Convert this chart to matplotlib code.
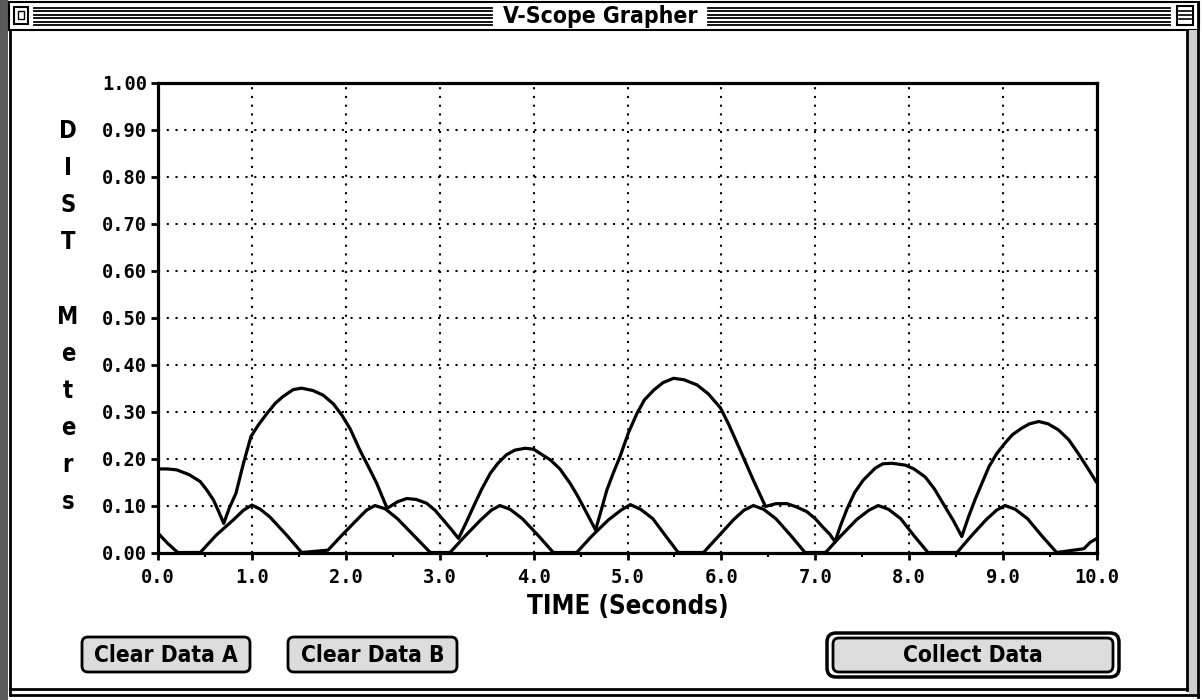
import matplotlib
matplotlib.use("Agg")
import matplotlib.pyplot as plt
from matplotlib.patches import FancyBboxPatch, Rectangle

# ---------------- data ----------------
window_title = "V-Scope Grapher"
x_label = "TIME (Seconds)"
y_label_top = "DIST"
y_label_bottom = "Meters"
button_labels = ["Clear Data A", "Clear Data B", "Collect Data"]

x_ticks = [0.0, 1.0, 2.0, 3.0, 4.0, 5.0, 6.0, 7.0, 8.0, 9.0, 10.0]
x_tick_labels = ["0.0", "1.0", "2.0", "3.0", "4.0", "5.0", "6.0", "7.0", "8.0", "9.0", "10.0"]
y_ticks = [0.0, 0.1, 0.2, 0.3, 0.4, 0.5, 0.6, 0.7, 0.8, 0.9, 1.0]
y_tick_labels = ["0.00", "0.10", "0.20", "0.30", "0.40", "0.50", "0.60", "0.70", "0.80", "0.90", "1.00"]

# Series A (large bouncing arcs)
time_a = [0.02, 0.10, 0.20, 0.33, 0.45, 0.52, 0.59, 0.64, 0.70,
          0.76, 0.83, 0.91, 0.99, 1.07, 1.16, 1.25, 1.33, 1.44, 1.53, 1.65,
          1.76, 1.87, 1.96, 2.05, 2.15, 2.24, 2.33, 2.44,
          2.55, 2.65, 2.75, 2.86, 2.95, 3.04, 3.12, 3.20,
          3.28, 3.36, 3.45, 3.54, 3.62, 3.71, 3.80, 3.91, 4.00, 4.07, 4.18,
          4.28, 4.39, 4.47, 4.55, 4.66,
          4.72, 4.78, 4.85, 4.92, 5.01, 5.10, 5.18, 5.28, 5.38, 5.49, 5.60,
          5.74, 5.86, 5.99, 6.08, 6.20, 6.34, 6.47,
          6.58, 6.70, 6.80, 6.91, 7.00, 7.09, 7.15, 7.21,
          7.27, 7.34, 7.42, 7.51, 7.64, 7.72, 7.82, 7.96, 8.05, 8.17, 8.27,
          8.38, 8.47, 8.56,
          8.63, 8.70, 8.78, 8.85, 8.93, 9.02, 9.10, 9.20, 9.28, 9.38, 9.48,
          9.59, 9.70, 9.80, 9.90, 9.99]
dist_a = [0.178, 0.178, 0.176, 0.166, 0.151, 0.133, 0.112, 0.090, 0.062,
          0.095, 0.126, 0.190, 0.247, 0.272, 0.296, 0.318, 0.332, 0.347, 0.350, 0.345,
          0.335, 0.316, 0.292, 0.262, 0.218, 0.183, 0.147, 0.094,
          0.108, 0.115, 0.113, 0.105, 0.090, 0.069, 0.050, 0.030,
          0.063, 0.098, 0.136, 0.169, 0.190, 0.208, 0.218, 0.222, 0.220, 0.211, 0.197,
          0.178, 0.147, 0.120, 0.090, 0.048,
          0.090, 0.133, 0.170, 0.204, 0.255, 0.296, 0.325, 0.346, 0.362, 0.371, 0.368,
          0.357, 0.338, 0.308, 0.272, 0.218, 0.154, 0.098,
          0.104, 0.104, 0.097, 0.087, 0.072, 0.052, 0.040, 0.023,
          0.058, 0.094, 0.128, 0.154, 0.180, 0.189, 0.190, 0.186, 0.178, 0.161, 0.135,
          0.098, 0.068, 0.034,
          0.075, 0.112, 0.150, 0.183, 0.210, 0.233, 0.251, 0.265, 0.274, 0.279, 0.274,
          0.261, 0.240, 0.211, 0.180, 0.151]

# Series B (small arcs peaking near 0.10 m)
time_b = [0.02, 0.10, 0.21, 0.45,
          0.62, 0.80, 0.91, 1.00, 1.09, 1.19, 1.37, 1.53, 1.81,
          1.95, 2.12, 2.22, 2.31, 2.42, 2.55, 2.72, 2.90, 3.11,
          3.27, 3.44, 3.55, 3.64, 3.75, 3.88, 4.05, 4.21, 4.46,
          4.62, 4.80, 4.93, 5.03, 5.14, 5.27, 5.40, 5.54, 5.81,
          5.97, 6.13, 6.24, 6.34, 6.45, 6.58, 6.74, 6.89, 7.11,
          7.27, 7.44, 7.57, 7.67, 7.78, 7.91, 8.05, 8.20, 8.51,
          8.66, 8.82, 8.93, 9.02, 9.13, 9.26, 9.41, 9.57, 9.86,
          9.93, 10.0]
dist_b = [0.037, 0.020, 0.000, 0.000,
          0.037, 0.069, 0.090, 0.101, 0.092, 0.076, 0.037, 0.000, 0.005,
          0.035, 0.070, 0.090, 0.100, 0.093, 0.072, 0.037, 0.000, 0.000,
          0.035, 0.070, 0.090, 0.100, 0.092, 0.072, 0.036, 0.000, 0.000,
          0.035, 0.070, 0.090, 0.102, 0.092, 0.072, 0.037, 0.000, 0.000,
          0.035, 0.070, 0.090, 0.100, 0.092, 0.072, 0.036, 0.000, 0.000,
          0.035, 0.070, 0.090, 0.100, 0.092, 0.072, 0.036, 0.000, 0.000,
          0.035, 0.070, 0.090, 0.100, 0.092, 0.072, 0.036, 0.000, 0.008,
          0.022, 0.030]

# ---------------- figure ----------------
W, H = 1202, 700
fig = plt.figure(figsize=(W / 100, H / 100), dpi=100)
fig.patch.set_facecolor("white")

UI_FONT = dict(family="DejaVu Sans", weight="bold", stretch="condensed")
MONO_FONT = dict(family="DejaVu Sans Mono", weight="bold")

# background "window" layer in pixel coordinates
bg = fig.add_axes([0, 0, 1, 1], zorder=0)
bg.set_xlim(0, W)
bg.set_ylim(H, 0)
bg.axis("off")

# left dark strip (scan edge)
bg.add_patch(Rectangle((0, 0), 8, H, facecolor="#5a5a5a", edgecolor="none"))
# title bar
bg.add_patch(Rectangle((9, 2), 1190, 28, facecolor="white", edgecolor="black", lw=1.5))
for yy in [7.5, 11, 14.5, 18, 21.5, 25]:
    bg.plot([34, 492], [yy, yy], color="black", lw=1.3)
    bg.plot([708, 1170], [yy, yy], color="black", lw=1.3)
# close box and zoom box
bg.add_patch(Rectangle((14, 7), 14, 17, facecolor="white", edgecolor="black", lw=1.5))
bg.add_patch(Rectangle((18, 11), 6, 8, facecolor="white", edgecolor="black", lw=1))
bg.add_patch(Rectangle((1177, 6), 16, 19, facecolor="white", edgecolor="black", lw=1.5))
for yy in [11, 15, 19]:
    bg.plot([1179, 1191], [yy, yy], color="black", lw=1.2)
bg.text(600, 16, window_title, ha="center", va="center", fontsize=16.5, color="black", **UI_FONT)

# window body border
bg.plot([10, 10], [30, 694], color="black", lw=2)
bg.plot([1187, 1187], [30, 690], color="black", lw=2)
bg.add_patch(Rectangle((1189, 30), 8, 664, facecolor="#cfcfcf", edgecolor="none"))
bg.plot([1198, 1198], [2, 697], color="black", lw=2)
bg.plot([10, 1187], [689, 689], color="black", lw=2)
bg.plot([10, 1198], [695, 695], color="black", lw=2)

# buttons
def button(x0, y0, w, h, label, default=False):
    if default:
        bg.add_patch(FancyBboxPatch((x0 - 6, y0 - 5), w + 12, h + 10,
                                    boxstyle="round,pad=0,rounding_size=9",
                                    facecolor="white", edgecolor="black", lw=2.5))
    bg.add_patch(FancyBboxPatch((x0, y0), w, h,
                                boxstyle="round,pad=0,rounding_size=6",
                                facecolor="#dcdcdc", edgecolor="black", lw=2))
    bg.text(x0 + w / 2, y0 + h / 2 + 1, label, ha="center", va="center",
            fontsize=16.3, color="black", **UI_FONT)

button(82, 637, 168, 35, button_labels[0])
button(288, 637, 169, 35, button_labels[1])
button(833, 638, 280, 34, button_labels[2], default=True)

# vertical stacked y label letters
for i, ch in enumerate(y_label_top):
    bg.text(68, 131 + 37 * i, ch, ha="center", va="center", fontsize=17, **UI_FONT)
for i, ch in enumerate(y_label_bottom):
    bg.text(68, 317 + 37 * i, ch, ha="center", va="center", fontsize=17, **UI_FONT)

# ---------------- plot axes ----------------
x0, x1 = 158, 1097
yb, yt = 552.5, 83
ax = fig.add_axes([x0 / W, (H - yb) / H, (x1 - x0) / W, (yb - yt) / H], zorder=2)
ax.set_facecolor("none")
ax.set_xlim(0, 10)
ax.set_ylim(0, 1.0)

ax.set_xticks(x_ticks)
ax.set_xticklabels(x_tick_labels, fontsize=13.5, **MONO_FONT)
ax.set_yticks(y_ticks)
ax.set_yticklabels(y_tick_labels, fontsize=13.5, **MONO_FONT)
ax.set_xticks([0.5 + i for i in range(10)], minor=True)
ax.tick_params(axis="both", which="major", direction="out", length=5, width=2,
               color="black", pad=3)
ax.tick_params(axis="x", which="minor", direction="out", length=3, width=1.5)
ax.tick_params(axis="x", which="major", pad=6)

ax.grid(True, which="major", color="black", linestyle=(0, (1, 3.2)), linewidth=1.5)
ax.set_axisbelow(True)
for s in ax.spines.values():
    s.set_linewidth(2.3)
    s.set_color("black")

ax.plot(time_a, dist_a, color="black", lw=2.3, solid_joinstyle="round", zorder=3)
ax.plot(time_b, dist_b, color="black", lw=2.3, solid_joinstyle="round", zorder=3)

ax.set_xlabel(x_label, fontsize=18.5, labelpad=5, **UI_FONT)

fig.savefig("out.png", dpi=100, facecolor="white")
